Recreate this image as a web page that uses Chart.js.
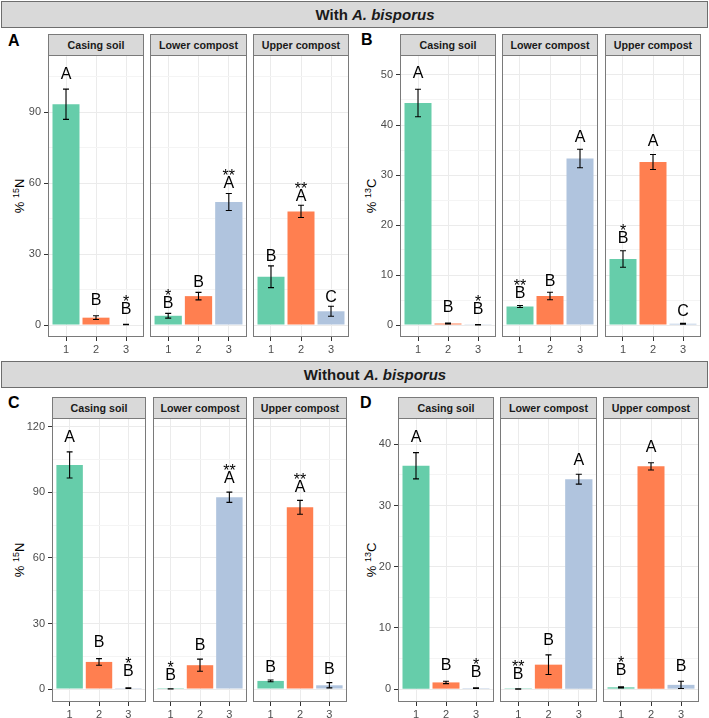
<!DOCTYPE html>
<html>
<head>
<meta charset="utf-8">
<script src="https://cdn.jsdelivr.net/npm/chart.js@4.4.0/dist/chart.umd.min.js"></script>
<style>
  body { margin: 0; width: 709px; height: 718px; overflow: hidden; background: #fff; position: relative;
         font-family: 'Liberation Sans', Arial, sans-serif; }
  .band { position: absolute; left: 1px; width: 707px; height: 27px; background: #d9d9d9;
          border: 1px solid #6e6e6e; box-sizing: border-box; }
  .band span { position: absolute; left: 373px; top: 0; transform: translateX(-50%); line-height: 25px;
               font-weight: bold; font-size: 15px; color: #1a1a1a; white-space: nowrap; }
  .strip { position: absolute; background: #d9d9d9; border: 1px solid #7a7a7a; box-sizing: border-box;
           font-weight: bold; font-size: 10.7px; color: #1a1a1a; text-align: center; line-height: 20px; }
  .plabel { position: absolute; font-weight: bold; font-size: 16px; color: #000; }
  .ytitle { position: absolute; transform: translate(-50%, -50%) rotate(-90deg); white-space: nowrap;
            font-size: 13px; color: #000; }
  .ytitle sup { font-size: 9px; vertical-align: 5px; }
  canvas { position: absolute; }
</style>
</head>
<body>
<div class="band" style="top:1px"><span>With <i>A. bisporus</i></span></div>
<div class="band" style="top:361px"><span>Without <i>A. bisporus</i></span></div>

<script>
// Facets and x categories
const facetNames = ['Casing soil', 'Lower compost', 'Upper compost'];
const xTicks = [1, 2, 3];
const barColors = ['#66CDAA', '#FF7F50', '#B0C4DE'];

// Panel A: % 15N with A. bisporus
const meanA = [[93.3, 3.1, 0.2], [3.9, 12.2, 52.0], [20.4, 48.0, 5.8]];
const errA = [[6.4, 0.8, 0.1], [1.0, 1.6, 3.6], [4.6, 2.6, 2.1]];
const lettersA = [['A', 'B', 'B'], ['B', 'B', 'A'], ['B', 'A', 'C']];
const starsA = [['', '', '*'], ['*', '', '**'], ['', '**', '']];
const letterYA = [[106.5, 11.0, 7.2], [9.4, 18.6, 60.5], [29.6, 54.9, 12.3]];
const yTicksA = [0, 30, 60, 90];

// Panel B: % 13C with A. bisporus
const meanB = [[44.4, 0.3, 0.05], [3.7, 5.8, 33.3], [13.2, 32.6, 0.25]];
const errB = [[2.75, 0.1, 0.03], [0.2, 0.75, 1.85], [1.65, 1.5, 0.1]];
const lettersB = [['A', 'B', 'B'], ['B', 'B', 'A'], ['B', 'A', 'C']];
const starsB = [['', '', '*'], ['**', '', ''], ['*', '', '']];
const letterYB = [[50.5, 3.7, 3.3], [6.5, 9.0, 37.7], [17.5, 36.9, 3.0]];
const yTicksB = [0, 10, 20, 30, 40, 50];

// Panel C: % 15N without A. bisporus
const meanC = [[102.6, 12.4, 0.4], [0.05, 10.9, 87.8], [3.7, 83.2, 1.7]];
const errC = [[6.0, 1.5, 0.2], [0.05, 2.8, 2.35], [0.4, 3.2, 1.2]];
const lettersC = [['A', 'B', 'B'], ['B', 'B', 'A'], ['B', 'A', 'B']];
const starsC = [['', '', '*'], ['*', '', '**'], ['', '**', '']];
const letterYC = [[115.9, 21.7, 8.4], [6.9, 20.5, 97.0], [10.5, 93.0, 9.5]];
const yTicksC = [0, 30, 60, 90, 120];

// Panel D: % 13C without A. bisporus
const meanD = [[36.5, 1.1, 0.15], [0.02, 4.0, 34.3], [0.3, 36.4, 0.7]];
const errD = [[2.15, 0.2, 0.05], [0.02, 1.6, 0.8], [0.1, 0.6, 0.6]];
const lettersD = [['A', 'B', 'B'], ['B', 'B', 'A'], ['B', 'A', 'B']];
const starsD = [['', '', '*'], ['**', '', ''], ['*', '', '']];
const letterYD = [[41.3, 4.0, 2.9], [2.6, 8.2, 37.6], [3.2, 39.6, 3.9]];
const yTicksD = [0, 10, 20, 30, 40];

// Layout of each panel (page pixels)
const panels = [
  { id: 'A', iso: '15', el: 'N', means: meanA, errs: errA, letters: lettersA, stars: starsA, letterY: letterYA,
    yTicks: yTicksA, yMin: -5.07, yMax: 114.1, top: 55, bottom: 337,
    xs: [[48, 143], [150, 246], [253, 348]], labelPos: [8, 32], titleX: 19 },
  { id: 'B', iso: '13', el: 'C', means: meanB, errs: errB, letters: lettersB, stars: starsB, letterY: letterYB,
    yTicks: yTicksB, yMin: -2.4, yMax: 54, top: 55, bottom: 337,
    xs: [[400, 495], [502, 597], [605, 700]], labelPos: [361, 31], titleX: 371 },
  { id: 'C', iso: '15', el: 'N', means: meanC, errs: errC, letters: lettersC, stars: starsC, letterY: letterYC,
    yTicks: yTicksC, yMin: -5.95, yMax: 124.1, top: 418, bottom: 702,
    xs: [[52, 145], [153, 246], [253, 346]], labelPos: [8, 394], titleX: 19 },
  { id: 'D', iso: '13', el: 'C', means: meanD, errs: errD, letters: lettersD, stars: starsD, letterY: letterYD,
    yTicks: yTicksD, yMin: -2.1, yMax: 44.3, top: 418, bottom: 702,
    xs: [[398, 493], [500, 596], [603, 698]], labelPos: [360, 394], titleX: 371 }
];

// Error bars, significance letters and the panel border
const facetDecor = {
  id: 'facetDecor',
  afterDatasetsDraw(chart, args, opts) {
    const ctx = chart.ctx;
    const xs = chart.scales.x, ys = chart.scales.y;
    ctx.save();
    ctx.strokeStyle = '#000';
    ctx.lineWidth = 1.1;
    opts.means.forEach((m, i) => {
      const x = xs.getPixelForValue(xTicks[i]);
      const xl = xs.getPixelForValue(xTicks[i] - 0.1);
      const xr = xs.getPixelForValue(xTicks[i] + 0.1);
      const yHi = ys.getPixelForValue(m + opts.errs[i]);
      const yLo = ys.getPixelForValue(Math.max(0, m - opts.errs[i]));
      ctx.beginPath();
      ctx.moveTo(x, yHi); ctx.lineTo(x, yLo);
      ctx.moveTo(xl, yHi); ctx.lineTo(xr, yHi);
      ctx.moveTo(xl, yLo); ctx.lineTo(xr, yLo);
      ctx.stroke();
    });
    ctx.fillStyle = '#000';
    ctx.font = '16px "Liberation Sans", Arial, sans-serif';
    ctx.textAlign = 'center';
    ctx.textBaseline = 'alphabetic';
    opts.letters.forEach((t, i) => {
      const x = xs.getPixelForValue(xTicks[i]);
      const yc = ys.getPixelForValue(opts.letterY[i]);
      ctx.fillText(t, x, yc + 5.7);
      if (opts.stars[i]) ctx.fillText(opts.stars[i], x, yc - 1.3);
    });
    ctx.restore();
  },
  afterDraw(chart) {
    const a = chart.chartArea, ctx = chart.ctx;
    ctx.save();
    ctx.strokeStyle = '#7a7a7a';
    ctx.lineWidth = 1;
    ctx.strokeRect(a.left + 0.5, a.top + 0.5, a.right - a.left - 1, a.bottom - a.top - 1);
    ctx.restore();
  }
};

// keep the plot box fixed: no extra padding for overflowing tick labels
function noPad(s) {
  s.paddingTop = 0; s.paddingBottom = 0; s.paddingLeft = 0; s.paddingRight = 0;
}

function buildFacet(p, f) {
  const left = p.xs[f][0], right = p.xs[f][1];
  const axisW = f === 0 ? 30 : 0;
  const axisH = 22;
  const step = p.yTicks[1] - p.yTicks[0];
  const minor = p.yTicks.map(v => v + step / 2).filter(v => v < p.yMax);
  const allTicks = p.yTicks.concat(minor).sort((a, b) => a - b);
  const isMajor = v => p.yTicks.includes(v);

  // strip header
  const strip = document.createElement('div');
  strip.className = 'strip';
  strip.style.left = left + 'px';
  strip.style.width = (right - left + 1) + 'px';
  strip.style.top = (p.top - 21) + 'px';
  strip.style.height = '22px';
  strip.textContent = facetNames[f];
  document.body.appendChild(strip);

  const canvas = document.createElement('canvas');
  canvas.width = right - left + 1 + axisW + 2;
  canvas.height = p.bottom - p.top + 2 + axisH;
  canvas.style.left = (left - axisW) + 'px';
  canvas.style.top = (p.top - 2) + 'px';
  document.body.appendChild(canvas);

  new Chart(canvas, {
    type: 'bar',
    data: {
      datasets: [{
        data: xTicks.map((x, i) => ({ x: x, y: p.means[f][i] })),
        backgroundColor: barColors,
        borderWidth: 0,
        barPercentage: 0.9,
        categoryPercentage: 1.0
      }]
    },
    options: {
      responsive: false,
      animation: false,
      layout: { padding: { top: 2, right: 2, left: 0, bottom: 0 } },
      plugins: {
        legend: { display: false },
        tooltip: { enabled: false },
        facetDecor: {
          means: p.means[f], errs: p.errs[f], letters: p.letters[f],
          stars: p.stars[f], letterY: p.letterY[f]
        }
      },
      scales: {
        x: {
          type: 'linear',
          offset: false,
          min: 0.4,
          max: 3.6,
          afterBuildTicks: s => { s.ticks = xTicks.map(v => ({ value: v })); },
          afterFit: s => { s.height = axisH; noPad(s); },
          border: { display: false },
          grid: { color: '#ebebeb', lineWidth: 1, tickLength: 4, tickColor: '#333', drawTicks: true, offset: false },
          ticks: {
            color: '#4d4d4d', padding: 2, maxRotation: 0, autoSkip: false,
            font: { family: 'Liberation Sans', size: 11 },
            callback: v => String(v)
          }
        },
        y: {
          type: 'linear',
          min: p.yMin,
          max: p.yMax,
          afterBuildTicks: s => { s.ticks = allTicks.map(v => ({ value: v })); },
          afterFit: s => { s.width = axisW; noPad(s); },
          border: { display: false },
          grid: {
            color: c => isMajor(c.tick.value) ? '#ebebeb' : '#f4f4f4',
            lineWidth: 1,
            drawTicks: f === 0,
            tickLength: 4,
            tickColor: c => isMajor(c.tick.value) ? '#333' : 'rgba(0,0,0,0)'
          },
          ticks: {
            display: f === 0,
            color: '#4d4d4d', padding: 3, autoSkip: false,
            font: { family: 'Liberation Sans', size: 11 },
            callback: v => isMajor(v) ? String(v) : ''
          }
        }
      }
    },
    plugins: [facetDecor]
  });
}

panels.forEach(p => {
  const lab = document.createElement('div');
  lab.className = 'plabel';
  lab.style.left = p.labelPos[0] + 'px';
  lab.style.top = p.labelPos[1] + 'px';
  lab.textContent = p.id;
  document.body.appendChild(lab);

  const t = document.createElement('div');
  t.className = 'ytitle';
  t.style.left = p.titleX + 'px';
  t.style.top = ((p.top + p.bottom) / 2) + 'px';
  t.innerHTML = '% <sup>' + p.iso + '</sup>' + p.el;
  document.body.appendChild(t);

  facetNames.forEach((name, f) => buildFacet(p, f));
});
</script>
</body>
</html>
